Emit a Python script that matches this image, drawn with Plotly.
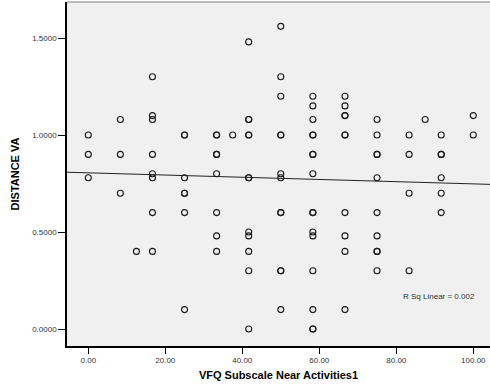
import plotly.graph_objects as go

# VFQ near-activities subscale score (x) and distance visual acuity (y), one entry per subject
vfq_near = [
    0.00, 0.00, 0.00,
    8.33, 8.33, 8.33,
    12.50,
    16.67, 16.67, 16.67, 16.67, 16.67, 16.67, 16.67, 16.67,
    25.00, 25.00, 25.00, 25.00, 25.00, 25.00, 25.00,
    33.33, 33.33, 33.33, 33.33, 33.33, 33.33, 33.33, 33.33,
    37.50,
    41.67, 41.67, 41.67, 41.67, 41.67, 41.67, 41.67, 41.67, 41.67, 41.67, 41.67, 41.67,
    50.00, 50.00, 50.00, 50.00, 50.00, 50.00, 50.00, 50.00, 50.00, 50.00, 50.00, 50.00,
    58.33, 58.33, 58.33, 58.33, 58.33, 58.33, 58.33, 58.33, 58.33, 58.33, 58.33, 58.33,
    58.33, 58.33, 58.33, 58.33,
    66.67, 66.67, 66.67, 66.67, 66.67, 66.67, 66.67, 66.67, 66.67, 66.67,
    75.00, 75.00, 75.00, 75.00, 75.00, 75.00, 75.00, 75.00, 75.00, 75.00,
    83.33, 83.33, 83.33, 83.33,
    87.50,
    91.67, 91.67, 91.67, 91.67, 91.67, 91.67,
    100.00, 100.00,
]
distance_va = [
    1.00, 0.90, 0.78,
    1.08, 0.90, 0.70,
    0.40,
    1.30, 1.10, 1.08, 0.90, 0.80, 0.78, 0.60, 0.40,
    1.00, 1.00, 0.78, 0.70, 0.70, 0.60, 0.10,
    1.00, 1.00, 0.90, 0.90, 0.80, 0.60, 0.48, 0.40,
    1.00,
    1.48, 1.08, 1.08, 1.00, 1.00, 0.78, 0.78, 0.50, 0.48, 0.40, 0.30, 0.00,
    1.56, 1.30, 1.20, 1.00, 1.00, 0.80, 0.78, 0.60, 0.60, 0.30, 0.30, 0.10,
    1.20, 1.15, 1.08, 1.00, 1.00, 0.90, 0.90, 0.80, 0.60, 0.60, 0.50, 0.48,
    0.30, 0.10, 0.00, 0.00,
    1.20, 1.15, 1.10, 1.10, 1.00, 1.00, 0.60, 0.48, 0.40, 0.10,
    1.08, 1.00, 0.90, 0.90, 0.78, 0.60, 0.48, 0.40, 0.40, 0.30,
    1.00, 0.90, 0.70, 0.30,
    1.08,
    1.00, 0.90, 0.90, 0.78, 0.70, 0.60,
    1.10, 1.00,
]
x_ticks = [0, 20, 40, 60, 80, 100]
y_ticks = [0.0, 0.5, 1.0, 1.5]
r_sq_label = "R Sq Linear = 0.002"

# linear fit reported for the full sample (distance VA on VFQ near score)
fit_intercept = 0.805
fit_slope = -0.00057

x_range = [-5.53, 104.34]
y_range = [-0.0876, 1.6856]

# fit line spans the whole plotting area
fit_x = list(x_range)
fit_y = [fit_intercept + fit_slope * v for v in fit_x]

font_family = "Arial, 'Liberation Sans', sans-serif"

fig = go.Figure()
fig.add_trace(go.Scatter(
    x=fit_x, y=fit_y, mode="lines",
    line=dict(color="#222222", width=1),
    hoverinfo="skip", showlegend=False,
))
fig.add_trace(go.Scatter(
    x=vfq_near, y=distance_va, mode="markers",
    marker=dict(symbol="circle-open", size=6, color="#1a1a1a",
                line=dict(width=1.1, color="#1a1a1a")),
    showlegend=False,
))

fig.add_annotation(
    x=81.2, y=0.17, xref="x", yref="y", text=r_sq_label,
    showarrow=False, xanchor="left", yanchor="middle",
    font=dict(family=font_family, size=8, color="#333333"),
)

# thin grey frame line along the top of the plotting area
fig.add_shape(type="line", xref="paper", yref="paper", x0=0, x1=1, y0=1, y1=1,
              line=dict(color="#808080", width=1))

fig.update_xaxes(
    range=x_range, tickvals=x_ticks, tickformat=".2f",
    ticks="outside", ticklen=6, tickwidth=1, tickcolor="#000000",
    showline=True, linecolor="#000000", linewidth=1.5,
    showgrid=False, zeroline=False,
    tickfont=dict(family=font_family, size=8, color="#333333"),
    title=dict(text="<b>VFQ Subscale Near Activities1</b>", standoff=7,
               font=dict(family=font_family, size=11, color="#000000")),
)
fig.update_yaxes(
    range=y_range, tickvals=y_ticks, tickformat=".4f",
    ticks="outside", ticklen=7, tickwidth=1, tickcolor="#000000",
    showline=True, linecolor="#000000", linewidth=1.5,
    showgrid=False, zeroline=False,
    tickfont=dict(family=font_family, size=8, color="#333333"),
    title=dict(text="<b>DISTANCE VA</b>", standoff=10,
               font=dict(family=font_family, size=11, color="#000000")),
)

fig.update_layout(
    width=490, height=392,
    margin=dict(l=67, r=0, t=2, b=46),
    paper_bgcolor="#ffffff", plot_bgcolor="#f0f0f0",
    font=dict(family=font_family),
)

fig.write_html("out.html")
